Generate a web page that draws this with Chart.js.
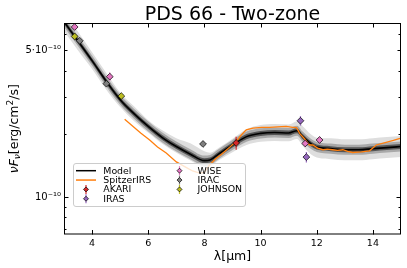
<!DOCTYPE html>
<html>
<head>
<meta charset="utf-8">
<script src="https://cdn.jsdelivr.net/npm/chart.js@4.4.1/dist/chart.umd.min.js"></script>
<style>
  html, body { margin: 0; padding: 0; background: #fff; }
  #wrap { width: 407px; height: 268px; }
</style>
</head>
<body>
<div id="wrap"><canvas id="sed"></canvas></div>
<script>
// Flüsse in 1e-10 erg/cm2/s, Wellenlängen in µm
const modelWl   = [3.0, 3.5, 4.0, 4.5, 5.0, 5.5, 6.0, 6.5, 7.0, 7.5, 8.0, 8.2, 8.5, 9.0, 9.5, 10.0, 10.5, 11.0, 11.3, 11.5, 11.8, 12.0, 12.5, 13.0, 13.5, 14.0, 14.5, 15.0];
const modelFlux = [6.86, 5.54, 4.47, 3.57, 2.91, 2.49, 2.17, 1.92, 1.74, 1.60, 1.49, 1.50, 1.60, 1.77, 1.94, 2.01, 2.03, 2.02, 2.07, 1.94, 1.79, 1.73, 1.70, 1.68, 1.68, 1.70, 1.72, 1.74];
// Streuung der Modelle (dex, oben / unten)
const bandUp = [0.045, 0.045, 0.04, 0.04, 0.035, 0.035, 0.03, 0.035, 0.04, 0.052, 0.045, 0.035, 0.03, 0.03, 0.035, 0.04, 0.04, 0.04, 0.045, 0.05, 0.045, 0.045, 0.05, 0.05, 0.05, 0.05, 0.05, 0.05];
const bandDn = [0.045, 0.045, 0.04, 0.04, 0.035, 0.035, 0.03, 0.03, 0.03, 0.03, 0.03, 0.03, 0.03, 0.035, 0.04, 0.04, 0.04, 0.04, 0.04, 0.045, 0.05, 0.05, 0.05, 0.05, 0.05, 0.05, 0.05, 0.05];

const spitzerWl   = [5.16, 5.46, 5.73, 6.05, 6.33, 6.64, 7.0, 7.36, 7.58, 7.83, 8.0, 8.18, 8.4, 8.61, 8.86, 9.13, 9.32, 9.49, 9.73, 10.04, 10.32, 10.6, 10.91, 11.15, 11.28, 11.39, 11.57, 11.74, 11.86, 12.03, 12.22, 12.38, 12.56, 12.74, 12.93, 13.1, 13.28, 13.59, 13.88, 14.12, 14.47, 14.73, 15.0];
const spitzerFlux = [2.35, 2.17, 2.02, 1.87, 1.73, 1.62, 1.47, 1.38, 1.33, 1.30, 1.31, 1.42, 1.52, 1.60, 1.71, 1.84, 1.98, 2.09, 2.13, 2.15, 2.15, 2.16, 2.17, 2.15, 2.14, 2.01, 1.89, 1.77, 1.77, 1.71, 1.68, 1.69, 1.68, 1.67, 1.68, 1.65, 1.63, 1.64, 1.66, 1.77, 1.82, 1.86, 1.91];

const akariWl = [9.13], akariFlux = [1.81], akariErr = [0.13];
const irasWl = [11.42, 11.63], irasFlux = [2.31, 1.55], irasErr = [0.12, 0.09];
const wiseWl = [3.38, 4.63, 11.59, 12.10], wiseFlux = [6.47, 3.75, 1.80, 1.87], wiseErr = [0.2, 0.17, 0.07, 0.07];
const iracWl = [3.56, 4.51, 7.95], iracFlux = [5.56, 3.47, 1.79], iracErr = [0.1, 0.07, 0.04];
const johnsonWl = [3.38, 5.04], johnsonFlux = [5.83, 3.03], johnsonErr = [0.19, 0.1];

const xTicks = [4, 6, 8, 10, 12, 14];
const yLabelTicks = [1, 5];
const yTickLabels = ['10\u207B\u00B9\u2070', '5\u00B710\u207B\u00B9\u2070'];
const yMinorTicks = [0.7, 0.8, 0.9, 2, 3, 4, 6];

const FONT = 'DejaVu Sans';
const PHOT = [
  { label: 'AKARI', wl: akariWl, flux: akariFlux, err: akariErr, color: '#d62728' },
  { label: 'IRAS', wl: irasWl, flux: irasFlux, err: irasErr, color: '#9467bd' },
  { label: 'WISE', wl: wiseWl, flux: wiseFlux, err: wiseErr, color: '#e377c2' },
  { label: 'IRAC', wl: iracWl, flux: iracFlux, err: iracErr, color: '#7f7f7f' },
  { label: 'JOHNSON', wl: johnsonWl, flux: johnsonFlux, err: johnsonErr, color: '#bcbd22' },
];

const pts = (xs, ys) => xs.map((x, i) => ({ x, y: ys[i] }));
const shifted = (dex) => modelWl.map((x, i) => ({ x, y: modelFlux[i] * Math.pow(10, dex[i]) }));
const flat = (d) => modelWl.map(() => d);

function bandPair(up, dn, color, order) {
  return [
    { data: shifted(up), borderWidth: 0, pointRadius: 0, showLine: true, fill: '+1', backgroundColor: color, order, cubicInterpolationMode: 'monotone' },
    { data: shifted(dn.map((v) => -v)), borderWidth: 0, pointRadius: 0, showLine: true, fill: false, order, cubicInterpolationMode: 'monotone' },
  ];
}

const datasets = [
  ...PHOT.map((p) => ({
    label: p.label, data: pts(p.wl, p.flux), errors: p.err,
    pointStyle: 'rectRot', pointRadius: 3.4, pointBackgroundColor: p.color, backgroundColor: p.color,
    pointBorderColor: '#000', pointBorderWidth: 0.7, showLine: false, order: 0,
  })),
  { label: 'SpitzerIRS', data: pts(spitzerWl, spitzerFlux), borderColor: '#ff7f0e', borderWidth: 1.3, pointRadius: 0, showLine: true, order: 1 },
  { label: 'Model', data: pts(modelWl, modelFlux), borderColor: '#000', borderWidth: 1.6, pointRadius: 0, showLine: true, order: 2, cubicInterpolationMode: 'monotone' },
  ...bandPair(flat(0.012), flat(0.012), '#555555', 3),
  ...bandPair(flat(0.024), flat(0.024), '#a9a9a9', 4),
  ...bandPair(bandUp, bandDn, '#dedede', 5),
];

function diamond(ctx, cx, cy, r, fill) {
  ctx.beginPath();
  ctx.moveTo(cx, cy - r); ctx.lineTo(cx + r, cy); ctx.lineTo(cx, cy + r); ctx.lineTo(cx - r, cy);
  ctx.closePath();
  ctx.fillStyle = fill; ctx.fill();
  ctx.strokeStyle = '#000'; ctx.lineWidth = 0.7; ctx.stroke();
}

function drawRich(ctx, segs) {
  // segs: [text, size, dy, italic]
  let w = 0;
  segs.forEach((s) => { ctx.font = `${s[3] ? 'italic ' : ''}${s[1]}px ${FONT}`; w += ctx.measureText(s[0]).width; });
  let x = -w / 2;
  segs.forEach((s) => {
    ctx.font = `${s[3] ? 'italic ' : ''}${s[1]}px ${FONT}`;
    ctx.fillText(s[0], x, s[2]);
    x += ctx.measureText(s[0]).width;
  });
}

const sedDecor = {
  id: 'sedDecor',
  beforeDatasetDraw(chart, args) {
    const ds = chart.data.datasets[args.index];
    if (!ds.errors) return;
    const { ctx, scales: { x, y } } = chart;
    ctx.save();
    ctx.strokeStyle = ds.backgroundColor; ctx.lineWidth = 1.2;
    ds.data.forEach((p, i) => {
      const px = x.getPixelForValue(p.x);
      ctx.beginPath();
      ctx.moveTo(px, y.getPixelForValue(p.y - ds.errors[i]));
      ctx.lineTo(px, y.getPixelForValue(p.y + ds.errors[i]));
      ctx.stroke();
    });
    ctx.restore();
  },
  afterDraw(chart) {
    const { ctx, chartArea: a, scales: { x, y } } = chart;
    ctx.save();
    // Rahmen + nach innen zeigende Ticks
    ctx.strokeStyle = '#000'; ctx.lineWidth = 1;
    ctx.strokeRect(a.left + 0.5, a.top + 0.5, a.right - a.left - 1, a.bottom - a.top - 1);
    ctx.beginPath();
    xTicks.forEach((v) => {
      const px = Math.round(x.getPixelForValue(v)) + 0.5;
      ctx.moveTo(px, a.bottom); ctx.lineTo(px, a.bottom - 4.5);
      ctx.moveTo(px, a.top); ctx.lineTo(px, a.top + 4.5);
    });
    yLabelTicks.concat(yMinorTicks).forEach((v) => {
      const py = Math.round(y.getPixelForValue(v)) + 0.5;
      const len = v === 1 ? 4.5 : (v === 5 ? 3.5 : 2.5);
      ctx.moveTo(a.left, py); ctx.lineTo(a.left + len, py);
      ctx.moveTo(a.right, py); ctx.lineTo(a.right - len, py);
    });
    ctx.stroke();

    // Titel und Achsenbeschriftungen
    ctx.fillStyle = '#000';
    ctx.textAlign = 'left'; ctx.textBaseline = 'alphabetic';
    const cx = (a.left + a.right) / 2;
    ctx.save(); ctx.translate(cx, 19.5);
    drawRich(ctx, [['PDS 66 - Two-zone', 19, 0, false]]);
    ctx.restore();
    ctx.save(); ctx.translate(cx, 259.5);
    drawRich(ctx, [['\u03BB[\u03BCm]', 12.5, 0, false]]);
    ctx.restore();
    ctx.save(); ctx.translate(17.5, (a.top + a.bottom) / 2); ctx.rotate(-Math.PI / 2);
    drawRich(ctx, [['\u03BDF', 12.5, 0, true], ['\u03BD', 9, 2.5, true], ['[erg/cm', 12.5, 0, false], ['2', 9, -5, false], ['/s]', 12.5, 0, false]]);
    ctx.restore();

    // Legende (2 Spalten)
    const bx = 73.5, by = 163.5, bw = 172, bh = 43;
    ctx.beginPath(); ctx.roundRect(bx, by, bw, bh, 2.5);
    ctx.fillStyle = 'rgba(255,255,255,0.8)'; ctx.fill();
    ctx.strokeStyle = '#cccccc'; ctx.lineWidth = 1; ctx.stroke();
    const rows = [
      [{ label: 'Model', line: '#000' }, { label: 'SpitzerIRS', line: '#ff7f0e' }, PHOT[0], PHOT[1]],
      [PHOT[2], PHOT[3], PHOT[4]],
    ];
    const colMark = [86, 179.5], colText = [103.3, 197.5];
    ctx.font = `9.4px ${FONT}`; ctx.textBaseline = 'middle'; ctx.textAlign = 'left';
    rows.forEach((col, c) => col.forEach((it, r) => {
      const ry = 170.7 + r * 9.35;
      if (it.line) {
        ctx.strokeStyle = it.line; ctx.lineWidth = 1.5;
        ctx.beginPath(); ctx.moveTo(colMark[c] - 10, ry); ctx.lineTo(colMark[c] + 10, ry); ctx.stroke();
      } else {
        ctx.strokeStyle = it.color; ctx.lineWidth = 1.2;
        ctx.beginPath(); ctx.moveTo(colMark[c], ry - 4.5); ctx.lineTo(colMark[c], ry + 4.5); ctx.stroke();
        diamond(ctx, colMark[c], ry, 2.5, it.color);
      }
      ctx.fillStyle = '#000';
      ctx.fillText(it.label, colText[c], ry + 0.5);
    }));
    ctx.restore();
  },
};

new Chart(document.getElementById('sed'), {
  type: 'scatter',
  data: { datasets },
  plugins: [sedDecor],
  options: {
    responsive: true, maintainAspectRatio: false, animation: false, devicePixelRatio: 1,
    layout: { padding: { top: 23, right: 6, left: 0, bottom: 0 } },
    plugins: { legend: { display: false }, tooltip: { enabled: false } },
    scales: {
      x: {
        type: 'linear', min: 3, max: 15,
        grid: { display: false, drawTicks: false, tickLength: 0 }, border: { display: false },
        afterBuildTicks: (s) => { s.ticks = xTicks.map((v) => ({ value: v })); },
        ticks: { font: { family: FONT, size: 9.5 }, color: '#000', padding: 3, maxRotation: 0 },
        afterFit: (s) => { s.height = 33.5; },
      },
      y: {
        type: 'logarithmic', min: 0.662, max: 6.76,
        grid: { display: false, drawTicks: false, tickLength: 0 }, border: { display: false },
        afterBuildTicks: (s) => { s.ticks = yLabelTicks.map((v) => ({ value: v })); },
        ticks: { font: { family: FONT, size: 10 }, color: '#000', padding: 3, callback: (v, i) => yTickLabels[i] },
        afterFit: (s) => { s.width = 64; },
      },
    },
  },
});
</script>
</body>
</html>
